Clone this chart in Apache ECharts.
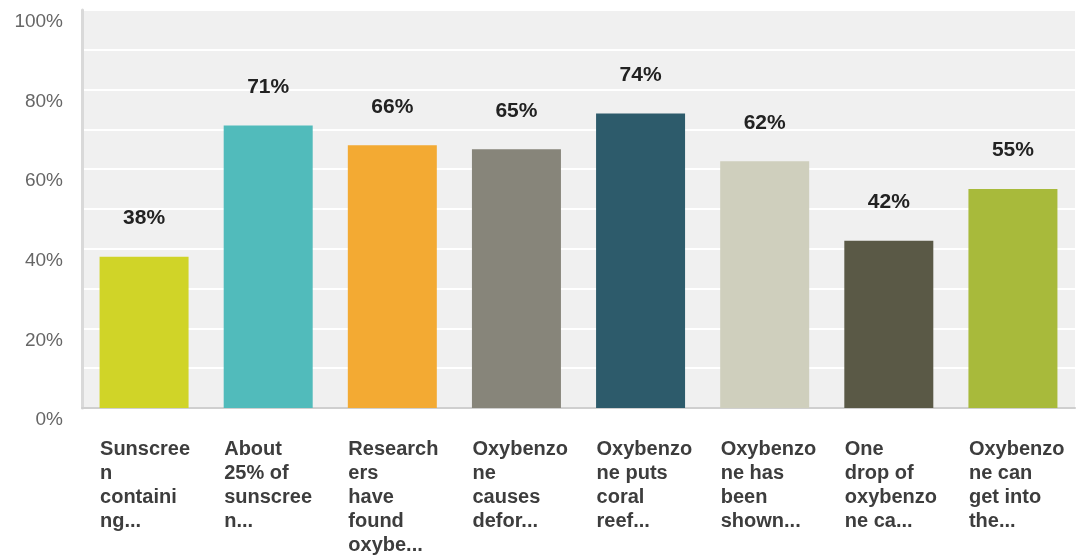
<!DOCTYPE html>
<html>
<head>
<meta charset="utf-8">
<script src="https://cdn.jsdelivr.net/npm/echarts@6/dist/echarts.min.js"></script>
<style>
  html, body { margin: 0; padding: 0; background: #ffffff; }
  #chart { width: 1081px; height: 555px; }
</style>
</head>
<body>
<div id="chart"></div>
<script>
// Answer choices (shortened, wrapped as they appear under each bar)
const categories = [
  ['Sunscree', 'n', 'containi', 'ng...'],
  ['About', '25% of', 'sunscree', 'n...'],
  ['Research', 'ers', 'have', 'found', 'oxybe...'],
  ['Oxybenzo', 'ne', 'causes', 'defor...'],
  ['Oxybenzo', 'ne puts', 'coral', 'reef...'],
  ['Oxybenzo', 'ne has', 'been', 'shown...'],
  ['One', 'drop of', 'oxybenzo', 'ne ca...'],
  ['Oxybenzo', 'ne can', 'get into', 'the...']
];
// Share of respondents per answer (%)
const values = [38, 71, 66, 65, 74, 62, 42, 55];
const barColors = ['#d0d428', '#51bbbb', '#f3aa33', '#87857a', '#2d5b6b', '#cfcfbd', '#5a5946', '#a8ba3b'];
// Y-axis labelled ticks
const yTickLabels = [0, 20, 40, 60, 80, 100];

const chart = echarts.init(document.getElementById('chart'), null, { renderer: 'canvas' });

const option = {
  backgroundColor: '#ffffff',
  animation: false,
  grid: {
    left: 82, right: 6, top: 10, bottom: 147,
    show: true, backgroundColor: '#f0f0f0', borderWidth: 0
  },
  xAxis: {
    type: 'category',
    data: categories.map(c => c.join('\n')),
    axisLine: { show: true, lineStyle: { color: '#cfcfcf', width: 2 } },
    axisTick: { show: false },
    splitLine: { show: false },
    axisLabel: {
      interval: 0,
      margin: 29,
      align: 'center',
      formatter: v => v.split('\n').map(s => '{a|' + s + '}').join('\n'),
      rich: {
        a: {
          width: 88,
          align: 'left',
          fontFamily: 'Liberation Sans, Arial, sans-serif',
          fontWeight: 'bold',
          fontSize: 20,
          lineHeight: 24,
          color: '#3d3d3d'
        }
      }
    }
  },
  yAxis: {
    type: 'value',
    min: 0, max: 100, interval: 10,
    axisLine: { show: true, lineStyle: { color: '#d9d9d9', width: 3 } },
    axisTick: { show: false },
    splitLine: { show: true, lineStyle: { color: '#ffffff', width: 2 } },
    axisLabel: {
      margin: 19,
      verticalAlign: 'top',
      lineHeight: 24,
      fontFamily: 'Liberation Sans, Arial, sans-serif',
      fontSize: 19,
      color: '#666666',
      formatter: v => yTickLabels.indexOf(v) >= 0 ? v + '%' : ''
    }
  },
  series: [{
    type: 'bar',
    data: values.map((v, i) => ({ value: v, itemStyle: { color: barColors[i] } })),
    barWidth: 89,
    label: {
      show: true,
      position: 'top',
      distance: 28,
      formatter: p => p.value + '%',
      fontFamily: 'Liberation Sans, Arial, sans-serif',
      fontWeight: 'bold',
      fontSize: 21,
      color: '#222222'
    }
  }]
};

chart.setOption(option);
</script>
</body>
</html>
